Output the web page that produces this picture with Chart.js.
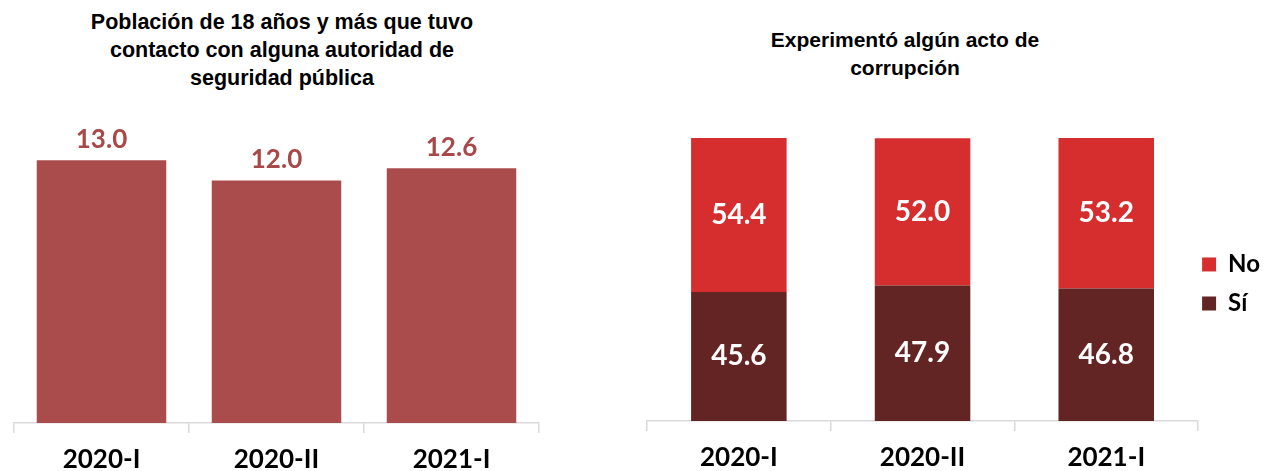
<!DOCTYPE html>
<html>
<head>
<meta charset="utf-8">
<script src="https://cdn.jsdelivr.net/npm/chart.js@4.4.0/dist/chart.umd.min.js"></script>
<style>
    body { margin: 0; width: 1264px; height: 471px; overflow: hidden; background: #fff; position: relative; }
    .title { position: absolute; width: 460px; font: bold 21px "Liberation Sans", Arial, sans-serif; line-height: 28px; text-align: center; color: #000; }
    #leftBox { position: absolute; left: 0; top: 0; width: 560px; height: 489px; }
    #rightBox { position: absolute; left: 600px; top: 0; width: 664px; height: 487px; }
</style>
</head>
<body>
<div class="title" style="left:52px; top:8px; font-size:21.5px;">Población de 18 años y más que tuvo<br>contacto con alguna autoridad de<br>seguridad pública</div>
<div class="title" style="left:675px; top:26px;">Experimentó algún acto de<br>corrupción</div>
<div id="leftBox"><canvas id="contactoChart"></canvas></div>
<div id="rightBox"><canvas id="corrupcionChart"></canvas></div>

<script>
const periods = ['2020-I', '2020-II', '2021-I'];
const contacto = [13.0, 12.0, 12.6];
const corrupcionSi = [45.6, 47.9, 46.8];
const corrupcionNo = [54.4, 52.0, 53.2];

// dibuja los valores sobre / dentro de las barras
const valueLabels = {
    id: 'valueLabels',
    afterDatasetsDraw(chart, args, opts) {
        const ctx = chart.ctx;
        ctx.save();
        ctx.font = opts.font;
        ctx.fillStyle = opts.color;
        ctx.textAlign = 'center';
        ctx.textBaseline = 'middle';
        chart.data.datasets.forEach((ds, i) => {
            chart.getDatasetMeta(i).data.forEach((bar, j) => {
                const text = ds.data[j].toFixed(1);
                const y = opts.inside ? (bar.y + bar.base) / 2 : bar.y - opts.offset;
                ctx.fillText(text, bar.x, y);
            });
        });
        ctx.restore();
    }
};

function xAxis() {
    return {
        stacked: true,
        grid: { offset: true, drawOnChartArea: false, color: '#d9d9d9', tickLength: 10, lineWidth: 1.5 },
        border: { color: '#d9d9d9', width: 1.5 },
        ticks: { color: '#000', padding: 14, font: { family: 'Lato', weight: 'bold', size: 26, lineHeight: 1 } }
    };
}

new Chart(document.getElementById('contactoChart'), {
    type: 'bar',
    data: {
        labels: periods,
        datasets: [{
            label: 'Contacto',
            data: contacto,
            backgroundColor: '#AB4C4C',
            categoryPercentage: 1,
            barPercentage: 0.74
        }]
    },
    options: {
        responsive: true,
        maintainAspectRatio: false,
        animation: false,
        layout: { padding: { top: 140, left: 14, right: 21, bottom: 2 } },
        scales: {
            x: xAxis(),
            y: { display: false, min: 0, max: 14 }
        },
        plugins: {
            legend: { display: false },
            tooltip: { enabled: false },
            valueLabels: { font: 'bold 26px Lato', color: '#A94848', inside: false, offset: 21 }
        }
    },
    plugins: [valueLabels]
});

new Chart(document.getElementById('corrupcionChart'), {
    type: 'bar',
    data: {
        labels: periods,
        datasets: [
            {
                label: 'Sí',
                data: corrupcionSi,
                backgroundColor: '#632424',
                categoryPercentage: 1,
                barPercentage: 0.52
            },
            {
                label: 'No',
                data: corrupcionNo,
                backgroundColor: '#D62E2E',
                categoryPercentage: 1,
                barPercentage: 0.52
            }
        ]
    },
    options: {
        responsive: true,
        maintainAspectRatio: false,
        animation: false,
        layout: { padding: { top: 94, left: 47, right: -6, bottom: 2 } },
        scales: {
            x: xAxis(),
            y: { display: false, stacked: true, min: 0, max: 115.5 }
        },
        plugins: {
            legend: {
                position: 'right',
                reverse: true,
                labels: {
                    boxWidth: 14,
                    boxHeight: 14,
                    padding: 4,
                    color: '#000',
                    font: { family: 'Lato', weight: 'bold', size: 24, lineHeight: 1.46 },
                    // texto como arreglo para que la altura de cada entrada use lineHeight
                    generateLabels(chart) {
                        return Chart.defaults.plugins.legend.labels.generateLabels(chart)
                            .map(item => ({ ...item, text: [item.text] }));
                    }
                }
            },
            tooltip: { enabled: false },
            valueLabels: { font: 'bold 28px Lato', color: '#fff', inside: true }
        }
    },
    plugins: [valueLabels]
});
</script>
</body>
</html>
